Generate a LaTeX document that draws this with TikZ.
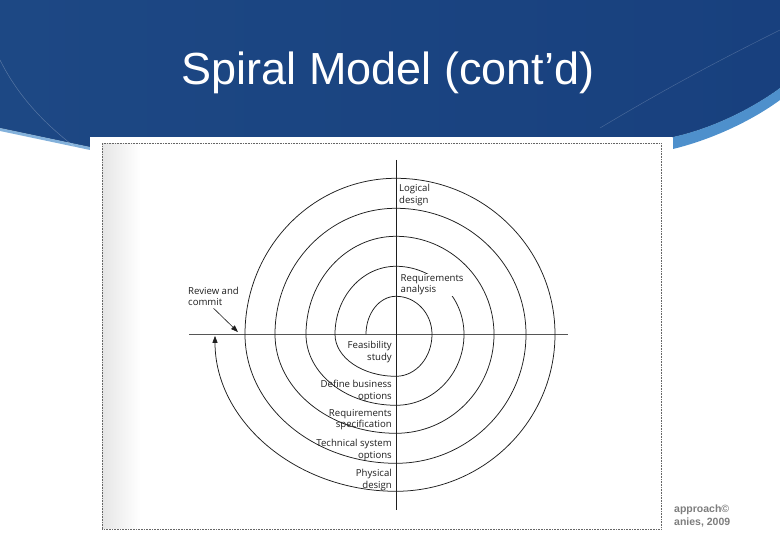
\documentclass[tikz,border=0pt]{standalone}
\usepackage{fontspec}
\setmainfont{Liberation Sans}
\newfontfamily\scanfont{Open Sans}
\usetikzlibrary{arrows.meta, positioning}

\definecolor{hdrdark}{RGB}{29,72,132}
\definecolor{hdrlight}{RGB}{60,124,182}
\definecolor{hdrright}{RGB}{24,64,126}
\definecolor{swoosh}{RGB}{78,144,204}
\definecolor{ink}{RGB}{30,30,30}
\definecolor{footgray}{RGB}{125,125,125}

\begin{document}
\begin{tikzpicture}[x=1pt, y=1pt,
    lbl/.style={font=\scanfont\fontsize{9.6}{11.7}\selectfont, text=ink, inner sep=0pt},
    turn/.style={draw=ink, line width=0.75pt},
    axis/.style={draw=ink!75, line width=1pt},
    tip/.style={-{Triangle[length=7pt,width=5pt]}},
    foot/.style={font=\bfseries\fontsize{10.5}{12}\selectfont, text=footgray, inner sep=0pt}]
    \useasboundingbox (0,0) rectangle (780,540);

    % ---------------- HEADER ----------------
    \fill[left color=hdrdark, middle color=hdrlight, right color=hdrright]
        (0,540) -- (780,540) -- (780,452)
        .. controls (750,430) and (710,411) .. (673,403) -- (90,393) -- (0,412) -- cycle;
    \fill[swoosh] (673,403) .. controls (710,411) and (750,430) .. (780,452) -- (780,440)
        .. controls (750,418) and (710,400) .. (673,391) -- cycle;
    \fill[swoosh!70] (0,412) -- (90,393) -- (90,390) -- (0,409) -- cycle;
    \draw[white, opacity=0.25, line width=0.5pt] (0,480) .. controls (20,440) and (50,410) .. (90,382);
    \draw[white, opacity=0.2, line width=0.5pt] (600,412) .. controls (680,460) and (740,490) .. (780,510);
    \node[font=\fontsize{45}{50}\selectfont, text=white, anchor=base] (title) at (388,455) {Spiral Model (cont’d)};

    % ---------------- SCANNED FIGURE ----------------
    \node[foot, anchor=base west] (credit1) at (674,27) {approach©};
    \node[foot, anchor=base west] (credit2) at (674,14) {anies, 2009};
    \fill[white] (90,6) rectangle (672,403);
    \shade[left color=black!10, right color=white] (102,11) rectangle (140,396);
    \draw[densely dotted, black!60, line width=0.6pt] (102,11) rectangle (661,396.5);

    \begin{scope}[shift={(396,205.7)}]
        \draw[axis] (-207,0) -- (172,0);
        \draw[turn, line width=0.65pt] (0,174.3) -- (0,-175.7);

        % spiral, one loop per line of data
        \draw[turn, tip, shorten >=1.5pt] (-30,0)
            \foreach \l/\t/\r/\b/\n in {30/38/36/42/61, 61/68/68/71/90, 90/98/98/99/121,
                                        121/126/130/129/151, 151/156/159/157/181}{
                arc[start angle=180, end angle=90, x radius=\l, y radius=\t]
                arc[start angle=90, end angle=0, x radius=\r, y radius=\t]
                arc[start angle=0, end angle=-90, x radius=\r, y radius=\b]
                arc[start angle=-90, end angle=-180, x radius=\n, y radius=\b]
            };

        % Labels
        \node[lbl, anchor=west, align=left] (logical) at (3,139.5) {Logical\\design};
        \node[lbl, anchor=west, align=left, fill=white, inner sep=0.5pt] (reqan) at (4,49.7) {Requirements\\analysis};
        \node[lbl, anchor=west, align=left] (review) at (-208,37.8) {Review and\\commit};
        \node[lbl, anchor=east, align=right] (feas) at (-4,-17.4) {Feasibility\\study};
        \node[lbl, anchor=east, align=right] (defbus) at (-4,-56.5) {Define business\\options};
        \node[lbl, anchor=east, align=right] (reqspec) at (-4,-85.4) {Requirements\\specification};
        \node[lbl, anchor=east, align=right] (techsys) at (-4,-115.5) {Technical system\\options};
        \node[lbl, anchor=east, align=right] (phys) at (-4,-145.9) {Physical\\design};

        \coordinate (rvtip) at (-158,2.2);
        \draw[turn, line width=0.6pt, tip] (review.south) ++(0,-2) -- (rvtip);
    \end{scope}
\end{tikzpicture}
\end{document}
